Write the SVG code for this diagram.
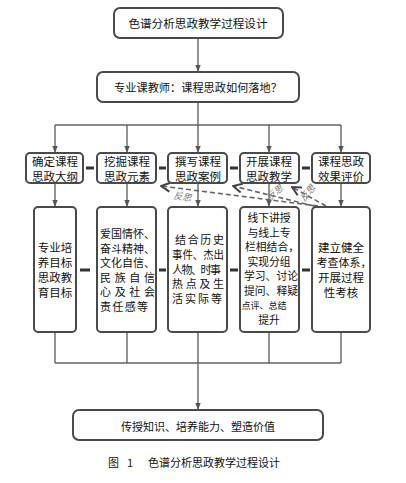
<svg xmlns="http://www.w3.org/2000/svg" width="406" height="483" viewBox="0 0 406 483">
<defs>
<marker id="ah" viewBox="0 0 10 10" refX="9" refY="5" markerWidth="5" markerHeight="5" orient="auto"><path d="M0,1 L10,5 L0,9 z" fill="#555"/></marker>
<marker id="ahd" viewBox="0 0 10 10" refX="9" refY="5" markerWidth="7" markerHeight="7" orient="auto"><path d="M1,1 L9,5 L1,9" fill="none" stroke="#444" stroke-width="1.8"/></marker>
</defs>
<style>
.box{fill:#fff;stroke:#4a4a4a;stroke-width:2}
.t{font-family:"Noto Sans CJK SC","Liberation Sans",sans-serif;fill:#111;text-anchor:middle}
.l{font-family:"Noto Sans CJK SC","Liberation Sans",sans-serif;fill:#111;font-size:11px}
.ln{fill:none;stroke:#666;stroke-width:1.4}
.dash{fill:none;stroke:#666;stroke-width:1.6;stroke-dasharray:5,3}
.link{stroke:#333;stroke-width:3}
.fs{font-family:"Noto Sans CJK SC","Liberation Sans",sans-serif;fill:#777;font-size:9px;font-style:italic;text-anchor:middle}
</style>
<rect width="406" height="483" fill="#fff"/>
<g id="connectors">
<path class="ln" d="M198,38 V71" marker-end="url(#ah)"/>
<path class="ln" d="M198,102 V125 M55,125 H341"/>
<path class="ln" d="M55,125 V152" marker-end="url(#ah)"/>
<path class="ln" d="M127,125 V152" marker-end="url(#ah)"/>
<path class="ln" d="M198,125 V152" marker-end="url(#ah)"/>
<path class="ln" d="M269,125 V152" marker-end="url(#ah)"/>
<path class="ln" d="M341,125 V152" marker-end="url(#ah)"/>
<path class="ln" d="M55,183 V206" marker-end="url(#ah)"/>
<path class="ln" d="M127,183 V206" marker-end="url(#ah)"/>
<path class="ln" d="M198,183 V206" marker-end="url(#ah)"/>
<path class="ln" d="M269,183 V206" marker-end="url(#ah)"/>
<path class="ln" d="M341,183 V206" marker-end="url(#ah)"/>
<path class="ln" d="M55,332 V363 M127,332 V363 M198,332 V363 M269,332 V363 M341,332 V363 M55,363 H341"/>
<path class="ln" d="M198,363 V409" marker-end="url(#ah)"/>
<path class="link" d="M86,168 H94 M159,168 H166 M230,168 H238 M302,168 H310"/>
<path class="link" d="M80,270 H90 M159,270 H166 M230,270 H238 M302,270 H310"/>
<path class="dash" d="M318,206 L161,186" marker-end="url(#ahd)"/>
<path class="dash" d="M322,208 L233,186" marker-end="url(#ahd)"/>
<path class="dash" d="M326,206 L292,187" marker-end="url(#ahd)"/>
<text class="fs" x="182" y="200" transform="rotate(8 182 200)">反思</text>
<text class="fs" x="277" y="195" transform="rotate(-40 277 195)">反思</text>
<text class="fs" x="310" y="195" transform="rotate(-50 310 195)">反思</text>
</g>
<g id="n-top"><rect class="box" x="114" y="8" width="169" height="30" rx="6"/><text class="t" x="198" y="28" font-size="11.6">色谱分析思政教学过程设计</text></g>
<g id="n-q"><rect class="box" x="97" y="72" width="202" height="30" rx="6"/><text class="t" x="198" y="92" font-size="11.2">专业课教师：课程思政如何落地？</text></g>
<g id="n-a1"><rect class="box" x="26" y="153" width="57" height="30" rx="4"/><text class="t" x="55" y="166" font-size="11.5">确定课程</text><text class="t" x="55" y="181" font-size="11.5">思政大纲</text></g>
<g id="n-a2"><rect class="box" x="97" y="153" width="59" height="30" rx="4"/><text class="t" x="127" y="166" font-size="11.5">挖掘课程</text><text class="t" x="127" y="181" font-size="11.5">思政元素</text></g>
<g id="n-a3"><rect class="box" x="168" y="153" width="59" height="30" rx="4"/><text class="t" x="198" y="166" font-size="11.5">撰写课程</text><text class="t" x="198" y="181" font-size="11.5">思政案例</text></g>
<g id="n-a4"><rect class="box" x="240" y="153" width="59" height="30" rx="4"/><text class="t" x="269" y="166" font-size="11.5">开展课程</text><text class="t" x="269" y="181" font-size="11.5">思政教学</text></g>
<g id="n-a5"><rect class="box" x="312" y="153" width="58" height="30" rx="4"/><text class="t" x="341" y="166" font-size="11.5">课程思政</text><text class="t" x="341" y="181" font-size="11.5">效果评价</text></g>
<g id="n-b1"><rect class="box" x="34" y="207" width="42" height="125" rx="4"/>
<text class="t" x="55" y="252" font-size="11.5">专业培</text><text class="t" x="55" y="267" font-size="11.5">养目标</text><text class="t" x="55" y="282" font-size="11.5">思政教</text><text class="t" x="55" y="297" font-size="11.5">育目标</text></g>
<g id="n-b2"><rect class="box" x="97" y="207" width="59" height="125" rx="4"/>
<text class="l" x="100" y="238" font-size="10.8">爱国情怀、</text><text class="l" x="100" y="252.6" font-size="10.8">奋斗精神、</text><text class="l" x="100" y="267.2" font-size="10.8">文化自信、</text><text class="l" x="100" y="281.8" font-size="10.8" textLength="55" lengthAdjust="spacing">民族自信</text><text class="l" x="100" y="296.4" font-size="10.8" textLength="55" lengthAdjust="spacing">心及社会</text><text class="l" x="100" y="311" font-size="10.8" textLength="48" lengthAdjust="spacing">责任感等</text></g>
<g id="n-b3"><rect class="box" x="168" y="207" width="59" height="125" rx="4"/>
<text class="l" x="175" y="244" textLength="49" lengthAdjust="spacing">结合历史</text><text class="l" x="172" y="258.8" textLength="52" lengthAdjust="spacingAndGlyphs">事件、杰出</text><text class="l" x="172" y="273.5" font-size="9.5" textLength="49" lengthAdjust="spacing">人物、时事</text><text class="l" x="172" y="288.2" textLength="52" lengthAdjust="spacing">热点及生</text><text class="l" x="172" y="303" textLength="50" lengthAdjust="spacing">活实际等</text></g>
<g id="n-b4"><rect class="box" x="240" y="207" width="59" height="125" rx="4"/>
<text class="t" x="269" y="222" font-size="10.8">线下讲授</text><text class="t" x="269" y="236.6" font-size="10.8">与线上专</text><text class="t" x="272" y="251.1" font-size="10.8">栏相结合，</text><text class="t" x="269" y="265.7" font-size="10.8">实现分组</text><text class="t" x="271" y="280.3" font-size="10.8">学习、讨论</text><text class="t" x="271" y="294.9" font-size="10.8">提问、释疑</text><text class="t" x="264" y="309.4" font-size="9">点评、总结</text><text class="t" x="269" y="324" font-size="10.8">提升</text></g>
<g id="n-b5"><rect class="box" x="312" y="207" width="58" height="125" rx="4"/>
<text class="t" x="341" y="252" font-size="11.5">建立健全</text><text class="t" x="344" y="267" font-size="11">考查体系，</text><text class="t" x="341" y="281.5" font-size="11.5">开展过程</text><text class="t" x="341" y="296.5" font-size="11.5">性考核</text></g>
<g id="n-end"><rect class="box" x="73" y="410" width="250" height="30" rx="6"/><text class="t" x="198" y="431" font-size="11">传授知识、培养能力、塑造价值</text></g>
<g id="caption"><text class="l" x="108" y="467" font-size="12">图</text><text class="l" x="127" y="467" font-size="12">1</text><text class="l" x="148" y="467" font-size="11.7">色谱分析思政教学过程设计</text></g>
</svg>
